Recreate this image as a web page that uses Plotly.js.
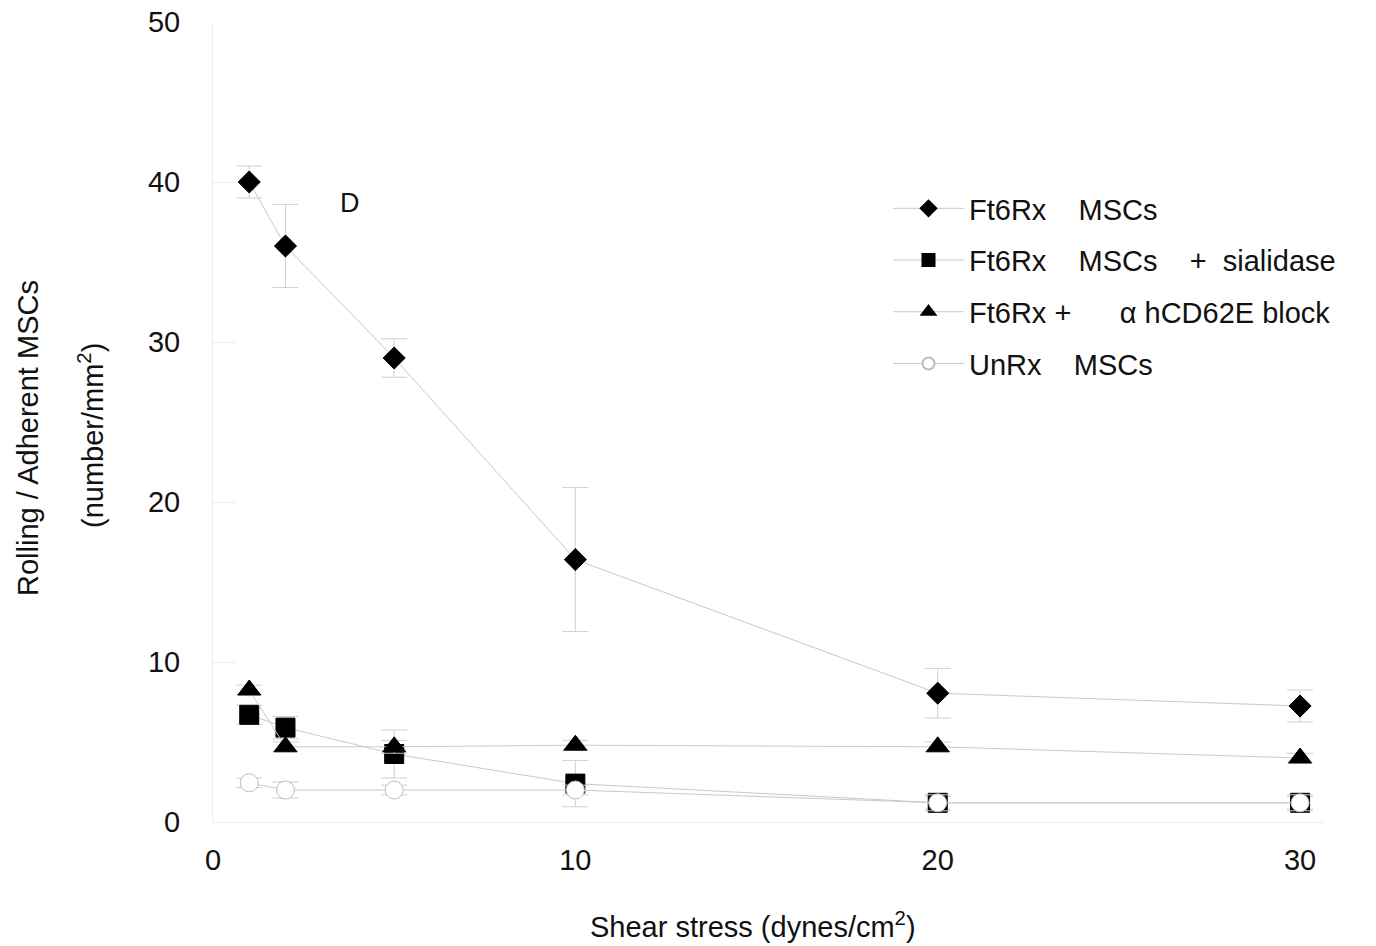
<!DOCTYPE html>
<html>
<head>
<meta charset="utf-8">
<script src="https://cdn.plot.ly/plotly-3.0.1.min.js"></script>
<style>
html,body{margin:0;padding:0;background:#fff;}
#chart{width:1376px;height:946px;}
#chart .legend .legendlines path{stroke-width:1px !important;}
</style>
</head>
<body>
<div id="chart"></div>
<script>
// Shear stress values (dynes/cm2)
const shear = [1, 2, 5, 10, 20, 30];

// Series values (number/mm2) and error bars
const ft6rx = [40, 36, 29, 16.4, 8.05, 7.25];
const ft6rxErr = [1.0, 2.6, 1.2, 4.5, 1.55, 1.0];

const sialidase = [6.7, 5.9, 4.25, 2.4, 1.2, 1.2];
const sialidaseErr = [0.6, 0.7, 1.5, 1.45, 0.4, 0.4];

const block = [8.25, 4.7, 4.7, 4.8, 4.7, 4.0];
const blockErr = [0.3, 0.3, 0.4, 0.3, 0.3, 0.3];

const unrx = [2.45, 2.0, 2.0, 2.0, 1.2, 1.2];
const unrxErr = [0.3, 0.5, 0.3, 0.3, 0.5, 0.5];

const names = [
  "Ft6Rx\u00a0\u00a0\u00a0\u00a0MSCs",
  "Ft6Rx\u00a0\u00a0\u00a0\u00a0MSCs\u00a0\u00a0\u00a0\u00a0+\u00a0\u00a0sialidase",
  "Ft6Rx\u00a0+\u00a0\u00a0\u00a0\u00a0\u00a0\u00a0\u03b1\u00a0hCD62E block",
  "UnRx\u00a0\u00a0\u00a0\u00a0MSCs"
];

const lineCol = "#c9c9c9";
const errCol = "#cfcfcf";
const font = "Liberation Sans, Arial, sans-serif";
const fs = 29;

function trace(y, err, name, symbol, size, fill, outline, grp) {
  return {
    x: shear, y: y, name: name, type: "scatter", mode: "lines+markers",
    legendgroup: grp,
    line: {color: lineCol, width: 1},
    marker: {symbol: symbol, size: size, color: fill, line: {color: outline, width: 1}},
    error_y: {type: "data", array: err, visible: true, color: errCol, thickness: 1, width: 13}
  };
}

const data = [
  trace(ft6rx, ft6rxErr, names[0], "diamond", 17, "#000", "#000", "a"),
  trace(sialidase, sialidaseErr, names[1], "square", 19, "#000", "#000", "b"),
  trace(block, blockErr, names[2], "triangle-up", 20, "#000", "#000", "c"),
  trace(unrx, unrxErr, names[3], "circle", 18, "#fff", "#bdbdbd", "d")
];

const L = 213, T = 22, PW = 1111, PH = 800;

const layout = {
  width: 1376, height: 946,
  margin: {l: L, r: 1376 - L - PW, t: T, b: 946 - T - PH},
  paper_bgcolor: "#fff", plot_bgcolor: "#fff",
  font: {family: font, size: fs, color: "#111"},
  showlegend: true,
  legend: {
    x: (888 - L) / PW, y: (822 - 183) / PH, xanchor: "left", yanchor: "top",
    font: {family: font, size: fs, color: "#111"},
    itemsizing: "constant", itemwidth: 71,
    traceorder: "grouped", tracegroupgap: 11,
    bgcolor: "rgba(0,0,0,0)"
  },
  xaxis: {
    range: [0, 30.66], showgrid: false, zeroline: false,
    showline: true, linecolor: "#ececec", linewidth: 1,
    tickvals: [0, 10, 20, 30], ticks: "", ticklabelstandoff: 12,
    tickfont: {size: fs, color: "#111"}
  },
  yaxis: {
    range: [0, 50], showgrid: false, zeroline: false,
    showline: true, linecolor: "#ececec", linewidth: 1,
    tickvals: [0, 10, 20, 30, 40, 50], ticks: "inside", ticklen: 22, tickcolor: "#ececec",
    ticklabelstandoff: 26,
    tickfont: {size: fs, color: "#111"}
  },
  annotations: [
    {text: "D", x: 3.78, y: 38.7, xref: "x", yref: "y", showarrow: false,
     xanchor: "center", yanchor: "middle",
     font: {size: 27, color: "#111"}},
    {text: "Shear stress (dynes/cm<sup>2</sup>)", xref: "paper", yref: "paper",
     x: (753 - L) / PW, y: -(925 - 822) / PH, showarrow: false,
     xanchor: "center", yanchor: "middle",
     font: {size: fs, color: "#111"}},
    {text: "Rolling / Adherent MSCs", xref: "paper", yref: "paper", textangle: -90,
     x: (28 - L) / PW, y: (822 - 438) / PH, showarrow: false,
     xanchor: "center", yanchor: "middle",
     font: {size: fs, color: "#111"}},
    {text: "(number/mm<sup>2</sup>)", xref: "paper", yref: "paper", textangle: -90,
     x: (91 - L) / PW, y: (822 - 436) / PH, showarrow: false,
     xanchor: "center", yanchor: "middle",
     font: {size: fs, color: "#111"}}
  ]
};

Plotly.newPlot("chart", data, layout, {displayModeBar: false, staticPlot: true});
</script>
</body>
</html>
